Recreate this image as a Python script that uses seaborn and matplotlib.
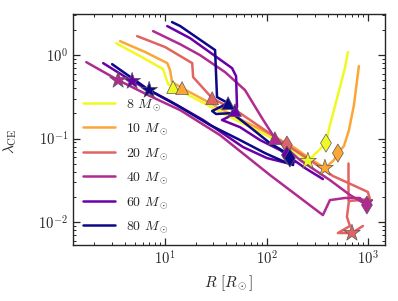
import numpy as np
import pandas as pd
import matplotlib
matplotlib.use('Agg')
import matplotlib.pyplot as plt
import seaborn as sns

# masses and legend labels
masses = [8, 10, 20, 40, 60, 80]
labels = [f'{m} $M_\\odot$' for m in masses]

# track pieces: radius R [Rsun] and lambda_CE
r_8 = [3.29, 5.67, 9.56, 10.2, 10.7, 12.6, 22.1, 43.7, 86.3, 152, 214, 256, 322, 386, 422, 506, 593, 635]
lam_8 = [1.39, 0.973, 0.680, 0.530, 0.449, 0.403, 0.281, 0.181, 0.120, 0.0836, 0.0634, 0.0538, 0.0708, 0.0883, 0.145, 0.332, 0.699, 1.09]

r_10 = [3.60, 6.35, 10.5, 11.2, 11.7, 14.7, 27.8, 54.8, 108, 191, 281, 377, 462, 506, 580, 650, 728, 815]
lam_10 = [1.47, 1.09, 0.802, 0.661, 0.475, 0.403, 0.266, 0.171, 0.113, 0.0769, 0.0553, 0.0443, 0.0553, 0.0670, 0.0813, 0.126, 0.252, 0.739]

r_20 = [5.30, 10.0, 18.5, 18.9, 29.1, 54.8, 96.6, 159, 268, 452, 745, 1000, 1046, 650, 621, 665, 506, 696, 893]
lam_20 = [1.69, 1.25, 0.802, 0.545, 0.305, 0.202, 0.126, 0.0836, 0.0553, 0.0356, 0.0270, 0.0229, 0.0189, 0.0178, 0.0115, 0.00896, 0.00738, 0.00738, 0.00896]
r_20_b = [635, 635]
lam_20_b = [0.0509, 0.0183]

r_40 = [7.62, 14.1, 22.1, 39.0, 61.4, 90.3, 121, 214, 422, 665, 978, 1095]
lam_40 = [1.94, 1.35, 1.0, 0.626, 0.381, 0.176, 0.101, 0.0553, 0.0318, 0.0211, 0.0160, 0.0183]
r_40_b = [1.67, 3.44, 7.11, 14.1, 34.8, 108, 360, 422, 593, 834, 978]
lam_40_b = [0.824, 0.502, 0.323, 0.219, 0.110, 0.0366, 0.0121, 0.0183, 0.0194, 0.0194, 0.0160]

r_60 = [10.5, 17.6, 45.7, 50.1, 51.2, 48.9, 41.8, 36.4, 54.8, 86.3, 136, 159, 240, 360]
lam_60 = [2.23, 1.60, 0.699, 0.560, 0.238, 0.219, 0.181, 0.167, 0.137, 0.0960, 0.0728, 0.0634, 0.0443, 0.0327]
r_60_b = [2.45, 4.73, 11.2, 23.7, 58.7, 101, 159, 191]
lam_60_b = [0.802, 0.488, 0.281, 0.167, 0.0791, 0.0584, 0.0509, 0.0523]

r_80 = [11.7, 14.1, 31.1, 32.5, 41.8, 34.8, 29.1, 31.8, 45.7, 68.8, 108, 152, 170, 183]
lam_80 = [2.49, 2.23, 1.15, 0.314, 0.266, 0.238, 0.214, 0.197, 0.202, 0.137, 0.0883, 0.0689, 0.0584, 0.0495]
r_80_b = [3.00, 6.96, 14.1, 27.8, 54.8, 96.6, 152, 183]
lam_80_b = [0.780, 0.381, 0.238, 0.145, 0.0960, 0.0670, 0.0523, 0.0482]

# phase markers, one per mass (order of `masses`)
star_r = [256, 377, 696, 3.44, 4.73, 6.96]
star_lam = [0.0538, 0.0443, 0.00738, 0.502, 0.488, 0.381]
tri_r = [12.0, 14.7, 29.1, 121, 48.9, 41.8]
tri_lam = [0.414, 0.403, 0.305, 0.101, 0.219, 0.266]
dia_r = [386, 506, 159, 978, 159, 170]
dia_lam = [0.0883, 0.0670, 0.0836, 0.0160, 0.0634, 0.0584]

pieces = [
    (8, r_8, lam_8), (10, r_10, lam_10),
    (20, r_20, lam_20), (20, r_20_b, lam_20_b),
    (40, r_40, lam_40), (40, r_40_b, lam_40_b),
    (60, r_60, lam_60), (60, r_60_b, lam_60_b),
    (80, r_80, lam_80), (80, r_80_b, lam_80_b),
]
rows = []
for pid, (m, rr, ll) in enumerate(pieces):
    for r, l in zip(rr, ll):
        rows.append({'label': f'{m} $M_\\odot$', 'piece': pid, 'R': r, 'lam': l})
df = pd.DataFrame(rows)

mk = pd.DataFrame({'label': labels,
                   'star_r': star_r, 'star_lam': star_lam,
                   'tri_r': tri_r, 'tri_lam': tri_lam,
                   'dia_r': dia_r, 'dia_lam': dia_lam})

cmap = plt.get_cmap('plasma')
pal = dict(zip(labels, [cmap(v) for v in [1.0, 0.8, 0.6, 0.4, 0.2, 0.0]]))

sns.set_style('ticks')
plt.rcParams['font.family'] = 'serif'
plt.rcParams['font.serif'] = ['cmr10', 'DejaVu Serif']
plt.rcParams['mathtext.fontset'] = 'cm'
plt.rcParams['axes.formatter.use_mathtext'] = True

fig = plt.figure(figsize=(3.98, 3.01), dpi=100)
ax = fig.add_axes([0.183, 0.186, 0.784, 0.767])
ax.set_xscale('log')
ax.set_yscale('log')

sns.lineplot(data=df, x='R', y='lam', hue='label', hue_order=labels, units='piece',
             estimator=None, sort=False, palette=pal, lw=1.8, ax=ax)

for xcol, ycol, marker, size in [('tri_r', 'tri_lam', '^', 85),
                                 ('dia_r', 'dia_lam', 'd', 85),
                                 ('star_r', 'star_lam', '*', 160)]:
    sns.scatterplot(data=mk, x=xcol, y=ycol, hue='label', hue_order=labels, palette=pal,
                    marker=marker, s=size, edgecolor='0.35', linewidth=0.5,
                    legend=False, zorder=4, ax=ax)

ax.set_xlim(1.23, 1470)
ax.set_ylim(0.0053, 3.1)
ax.set_xlabel(r'$R\ [R_\odot]$', fontsize=11)
ax.set_ylabel(r'$\lambda_{\rm CE}$', fontsize=11)
ax.yaxis.set_label_coords(-0.172, 0.45)
ax.tick_params(which='both', direction='in', top=True, right=True, labelsize=10.5)
ax.tick_params(which='major', length=5, width=0.9)
ax.tick_params(which='minor', length=2.5, width=0.7)
for sp in ax.spines.values():
    sp.set_linewidth(1.0)

ax.legend(loc='lower left', frameon=False, fontsize=10, handlelength=2.3,
          labelspacing=0.62, borderaxespad=0.3)

fig.savefig('out.png', dpi=100)
